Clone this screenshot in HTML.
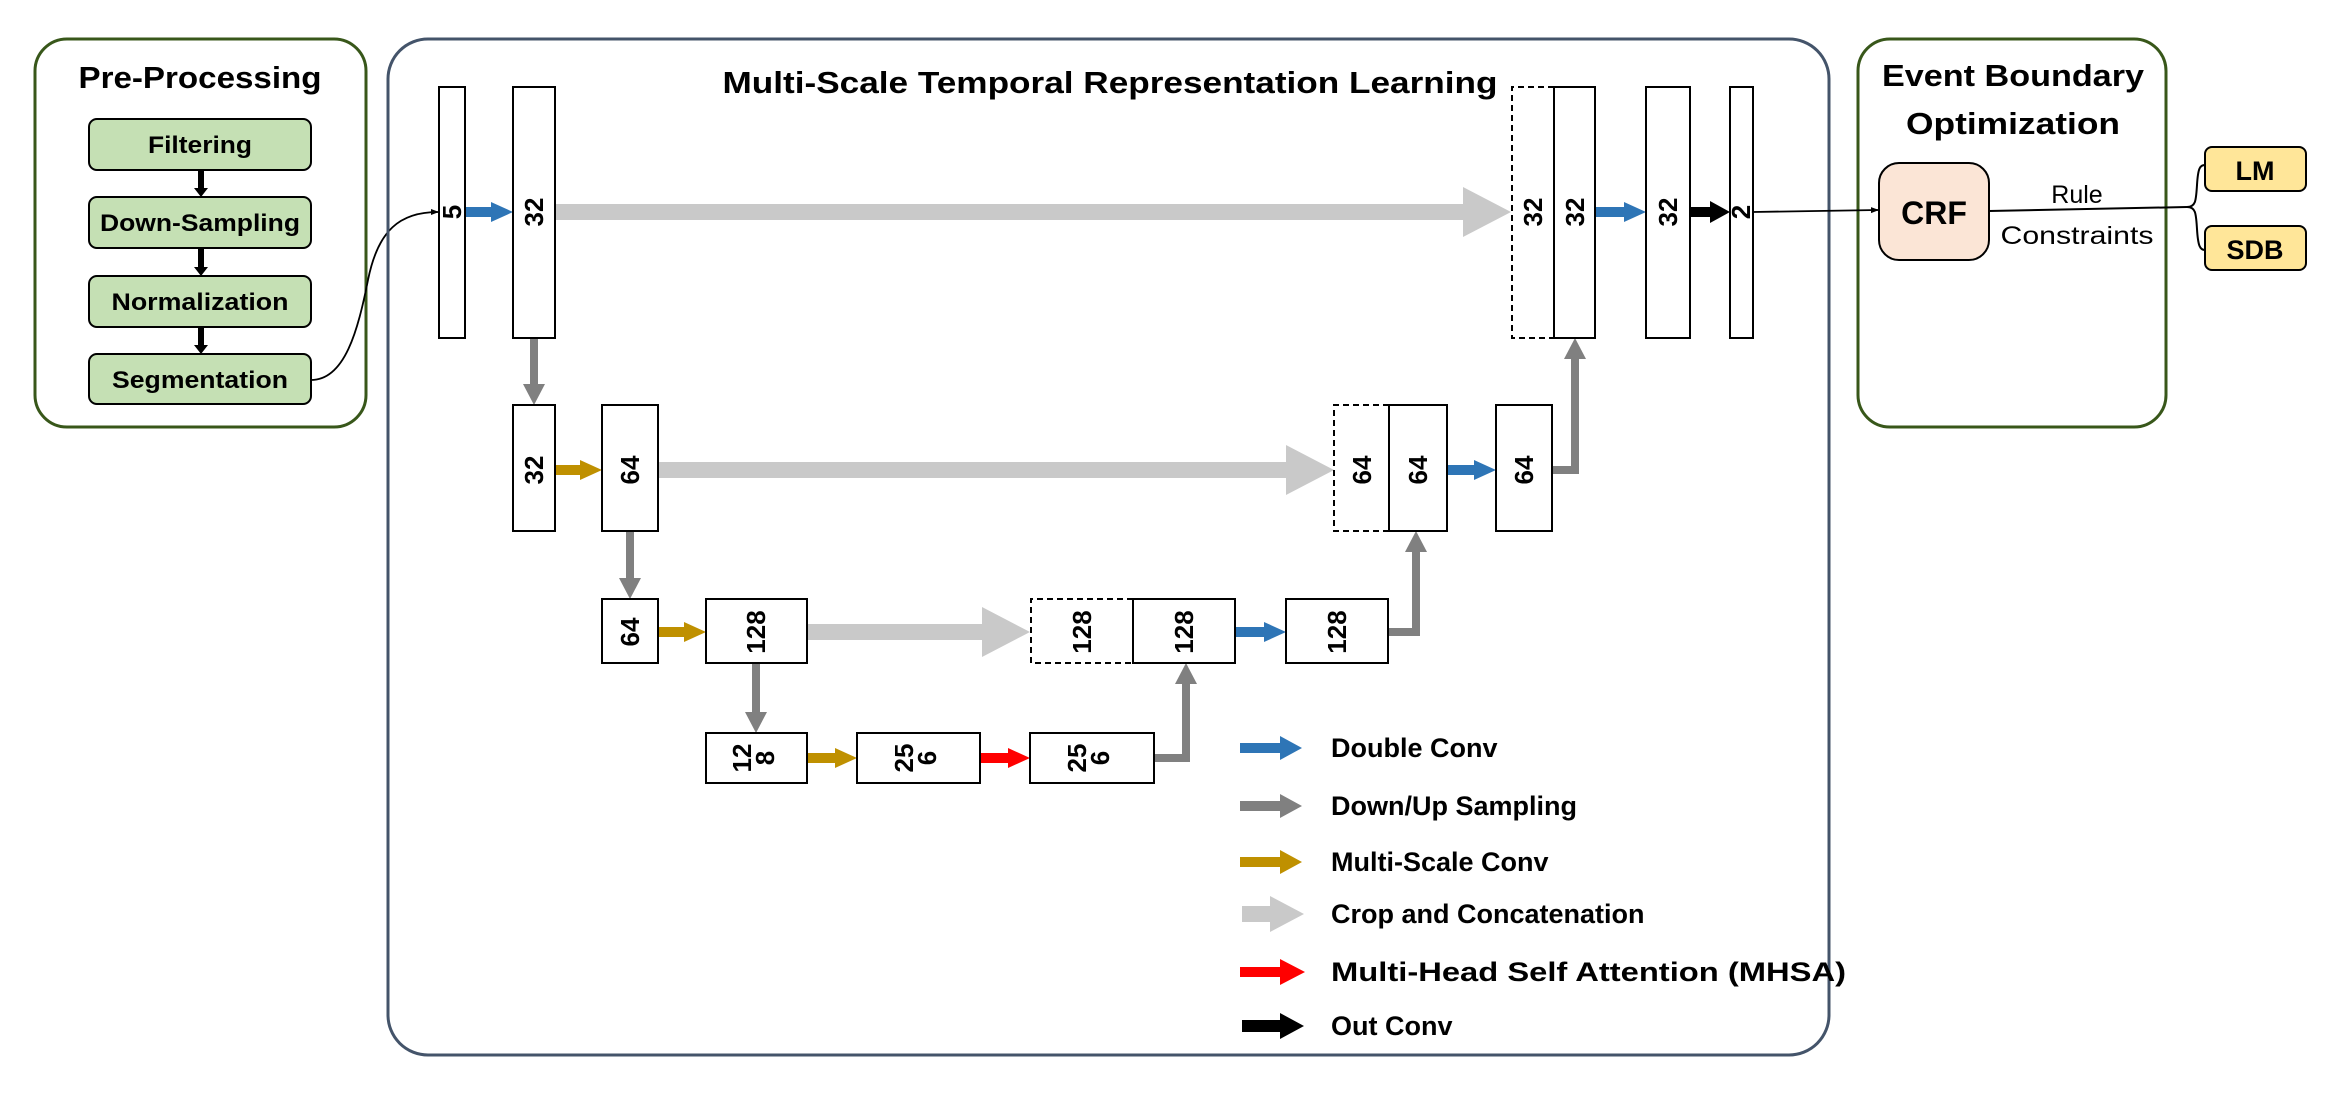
<!DOCTYPE html>
<html><head><meta charset="utf-8"><style>
html,body{margin:0;padding:0;background:#fff;}
svg{display:block;}
text{font-family:"Liberation Sans",sans-serif;}
</style></head><body>
<svg width="2342" height="1100" viewBox="0 0 2342 1100" xmlns="http://www.w3.org/2000/svg">
<defs>
<marker id="sa" markerWidth="8" markerHeight="8" refX="7" refY="4" orient="auto" markerUnits="userSpaceOnUse"><path d="M0,1 L8,4 L0,7 z" fill="#000"/></marker>
</defs>
<!-- Pre-processing -->
<rect x="35" y="39" width="331" height="388" rx="32" fill="#fff" stroke="#38571a" stroke-width="3"/>
<text x="200" y="88" font-size="31" font-weight="bold" text-anchor="middle" textLength="243" lengthAdjust="spacingAndGlyphs">Pre-Processing</text>
<g fill="#c5e0b4" stroke="#000" stroke-width="2">
<rect x="89" y="119" width="222" height="51" rx="8"/>
<rect x="89" y="197" width="222" height="51" rx="8"/>
<rect x="89" y="276" width="222" height="51" rx="8"/>
<rect x="89" y="354" width="222" height="50" rx="8"/>
</g>
<g font-size="24" font-weight="bold" text-anchor="middle">
<text x="200" y="153" textLength="104" lengthAdjust="spacingAndGlyphs">Filtering</text>
<text x="200" y="231" textLength="200" lengthAdjust="spacingAndGlyphs">Down-Sampling</text>
<text x="200" y="310" textLength="177" lengthAdjust="spacingAndGlyphs">Normalization</text>
<text x="200" y="388" textLength="176" lengthAdjust="spacingAndGlyphs">Segmentation</text>
</g>
<g fill="#000">
<polygon points="198,170 204,170 204,188 208,188 201,197 194,188 198,188"/>
<polygon points="198,248 204,248 204,267 208,267 201,276 194,267 198,267"/>
<polygon points="198,327 204,327 204,345 208,345 201,354 194,345 198,345"/>
</g>
<path d="M311,380 C345,380 358,330 368,280 C378,230 400,212 438,212" fill="none" stroke="#000" stroke-width="1.8" marker-end="url(#sa)"/>

<!-- Main box -->
<rect x="388" y="39" width="1441" height="1016" rx="40" fill="none" stroke="#44546a" stroke-width="3"/>
<text x="1110" y="93" font-size="31" font-weight="bold" text-anchor="middle" textLength="775" lengthAdjust="spacingAndGlyphs">Multi-Scale Temporal Representation Learning</text>

<!-- arrows -->
<polygon fill="#c9c9c9" points="555,204 1463,204 1463,187 1511,212 1463,237 1463,220 555,220"/>
<polygon fill="#c9c9c9" points="658,462 1286,462 1286,445 1334,470 1286,495 1286,478 658,478"/>
<polygon fill="#c9c9c9" points="807,624 982,624 982,607 1030,632 982,657 982,640 807,640"/>

<g fill="#2e75b6">
<polygon points="465,207 491,207 491,202 513,212 491,222 491,217 465,217"/>
<polygon points="1595,207 1624,207 1624,202 1646,212 1624,222 1624,217 1595,217"/>
<polygon points="1447,465 1474,465 1474,460 1496,470 1474,480 1474,475 1447,475"/>
<polygon points="1235,627 1264,627 1264,622 1286,632 1264,642 1264,637 1235,637"/>
</g>
<polygon fill="#000" points="1690,207 1710,207 1710,201 1730,212 1710,223 1710,217 1690,217"/>
<g fill="#bf9000">
<polygon points="555,465 580,465 580,460 602,470 580,480 580,475 555,475"/>
<polygon points="658,627 684,627 684,622 706,632 684,642 684,637 658,637"/>
<polygon points="807,753 835,753 835,748 857,758 835,768 835,763 807,763"/>
</g>
<polygon fill="#ff0000" points="980,753 1008,753 1008,748 1030,758 1008,768 1008,763 980,763"/>
<g fill="#808080">
<polygon points="530,338 530,384 523,384 534,405 545,384 538,384 538,338"/>
<polygon points="626,531 626,578 619,578 630,599 641,578 634,578 634,531"/>
<polygon points="752,663 752,712 745,712 756,733 767,712 760,712 760,663"/>
<polygon points="1564,359 1586,359 1575,338"/>
<polygon points="1405,552 1427,552 1416,531"/>
<polygon points="1175,684 1197,684 1186,663"/>
</g>
<g fill="none" stroke="#808080" stroke-width="8">
<polyline points="1552,470 1575,470 1575,358"/>
<polyline points="1388,632 1416,632 1416,551"/>
<polyline points="1154,758 1186,758 1186,683"/>
</g>

<!-- bars -->
<g fill="#fff" stroke="#000" stroke-width="2">
<rect x="439" y="87" width="26" height="251"/>
<rect x="513" y="87" width="42" height="251"/>
<rect x="1554" y="87" width="41" height="251"/>
<rect x="1646" y="87" width="44" height="251"/>
<rect x="1730" y="87" width="23" height="251"/>
<rect x="513" y="405" width="42" height="126"/>
<rect x="602" y="405" width="56" height="126"/>
<rect x="1389" y="405" width="58" height="126"/>
<rect x="1496" y="405" width="56" height="126"/>
<rect x="602" y="599" width="56" height="64"/>
<rect x="706" y="599" width="101" height="64"/>
<rect x="1133" y="599" width="102" height="64"/>
<rect x="1286" y="599" width="102" height="64"/>
<rect x="706" y="733" width="101" height="50"/>
<rect x="857" y="733" width="123" height="50"/>
<rect x="1030" y="733" width="124" height="50"/>
</g>
<g fill="none" stroke="#000" stroke-width="2" stroke-dasharray="6,4">
<polyline points="1554,87 1512,87 1512,338 1554,338"/>
<polyline points="1389,405 1334,405 1334,531 1389,531"/>
<polyline points="1133,599 1031,599 1031,663 1133,663"/>
</g>

<g font-size="26" font-weight="bold" text-anchor="middle">
<text transform="translate(461,212) rotate(-90)">5</text>
<text transform="translate(543,212) rotate(-90)">32</text>
<text transform="translate(1542,212) rotate(-90)">32</text>
<text transform="translate(1584,212) rotate(-90)">32</text>
<text transform="translate(1677,212) rotate(-90)">32</text>
<text transform="translate(1750,212) rotate(-90)">2</text>
<text transform="translate(543,470) rotate(-90)">32</text>
<text transform="translate(639,470) rotate(-90)">64</text>
<text transform="translate(1371,470) rotate(-90)">64</text>
<text transform="translate(1427,470) rotate(-90)">64</text>
<text transform="translate(1533,470) rotate(-90)">64</text>
<text transform="translate(639,632) rotate(-90)">64</text>
<text transform="translate(765,632) rotate(-90)">128</text>
<text transform="translate(1091,632) rotate(-90)">128</text>
<text transform="translate(1193,632) rotate(-90)">128</text>
<text transform="translate(1346,632) rotate(-90)">128</text>
<text transform="translate(751,758) rotate(-90)">12</text>
<text transform="translate(774,758) rotate(-90)">8</text>
<text transform="translate(913,758) rotate(-90)">25</text>
<text transform="translate(936,758) rotate(-90)">6</text>
<text transform="translate(1086,758) rotate(-90)">25</text>
<text transform="translate(1109,758) rotate(-90)">6</text>
</g>

<!-- legend -->
<polygon fill="#2e75b6" points="1240,743 1280,743 1280,736 1302,748 1280,760 1280,753 1240,753"/>
<polygon fill="#808080" points="1240,801 1280,801 1280,794 1302,806 1280,818 1280,811 1240,811"/>
<polygon fill="#bf9000" points="1240,857 1280,857 1280,850 1302,862 1280,874 1280,867 1240,867"/>
<polygon fill="#c9c9c9" points="1242,906 1270,906 1270,896 1304,914 1270,932 1270,922 1242,922"/>
<polygon fill="#ff0000" points="1240,967 1280,967 1280,959 1305,972 1280,985 1280,977 1240,977"/>
<polygon fill="#000" points="1242,1020 1280,1020 1280,1013 1304,1026 1280,1039 1280,1032 1242,1032"/>
<g font-size="27" font-weight="bold">
<text x="1331" y="757">Double Conv</text>
<text x="1331" y="815">Down/Up Sampling</text>
<text x="1331" y="871">Multi-Scale Conv</text>
<text x="1331" y="923">Crop and Concatenation</text>
<text x="1331" y="981" textLength="515" lengthAdjust="spacingAndGlyphs">Multi-Head Self Attention (MHSA)</text>
<text x="1331" y="1035">Out Conv</text>
</g>

<!-- Event boundary -->
<rect x="1858" y="39" width="308" height="388" rx="32" fill="#fff" stroke="#38571a" stroke-width="3"/>
<text x="2013" y="86" font-size="31" font-weight="bold" text-anchor="middle" textLength="262" lengthAdjust="spacingAndGlyphs">Event Boundary</text>
<text x="2013" y="134" font-size="31" font-weight="bold" text-anchor="middle" textLength="214" lengthAdjust="spacingAndGlyphs">Optimization</text>
<line x1="1753" y1="212" x2="1878" y2="210" stroke="#000" stroke-width="1.8" marker-end="url(#sa)"/>
<rect x="1879" y="163" width="110" height="97" rx="20" fill="#fbe5d6" stroke="#000" stroke-width="2"/>
<text x="1934" y="224" font-size="32" font-weight="bold" text-anchor="middle">CRF</text>
<line x1="1989" y1="211" x2="2187" y2="207" stroke="#000" stroke-width="2"/>
<path d="M2187,207 C2196,207 2196,200 2197,185 C2198,168 2200,165 2205,165" fill="none" stroke="#000" stroke-width="2"/>
<path d="M2187,207 C2196,207 2196,214 2197,229 C2198,246 2200,250 2205,250" fill="none" stroke="#000" stroke-width="2"/>
<text x="2077" y="203" font-size="25" text-anchor="middle">Rule</text>
<text x="2077" y="244" font-size="25" text-anchor="middle" textLength="153" lengthAdjust="spacingAndGlyphs">Constraints</text>
<rect x="2205" y="147" width="101" height="44" rx="7" fill="#ffe699" stroke="#000" stroke-width="2"/>
<rect x="2205" y="226" width="101" height="44" rx="7" fill="#ffe699" stroke="#000" stroke-width="2"/>
<text x="2255" y="180" font-size="27" font-weight="bold" text-anchor="middle">LM</text>
<text x="2255" y="259" font-size="27" font-weight="bold" text-anchor="middle">SDB</text>
</svg>
</body></html>
